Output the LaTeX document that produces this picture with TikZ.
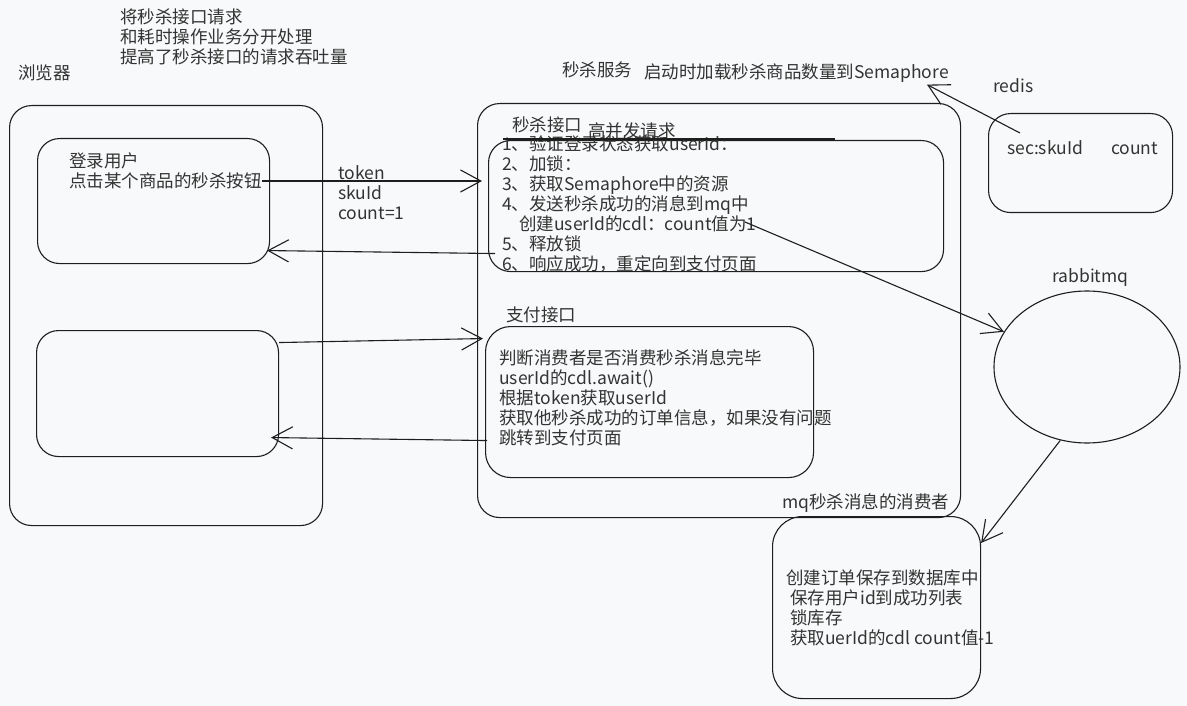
\documentclass[tikz,border=0pt]{standalone}
\usepackage{fontspec}
\setmainfont{Noto Sans CJK SC}
\usetikzlibrary{arrows.meta,shapes.geometric,calc}
\definecolor{bg}{RGB}{248,249,250}
\definecolor{ink}{RGB}{30,30,30}
\definecolor{txt}{RGB}{51,51,51}
\begin{document}
\begin{tikzpicture}[x=1pt,y=-1pt,
  box/.style={draw=ink,line width=1.1pt,rounded corners=22pt,anchor=north west,inner sep=0pt},
  lbl/.style={anchor=west,inner sep=0pt,text=txt,font=\fontsize{17.5}{20}\selectfont,align=left},
  arr/.style={draw=ink,line width=1.1pt,-{Straight Barb[length=12pt,width=13pt,scale=1.7]}},
  ln/.style={draw=ink,line width=1.1pt}]
\fill[bg] (0,0) rectangle (1187,706);
\useasboundingbox (0,0) rectangle (1187,706);
% boxes
\node[box,minimum width=313pt,minimum height=420pt] (browser) at (9,105) {};
\node[box,minimum width=232pt,minimum height=125pt] (b1) at (37,138) {};
\node[box,minimum width=242pt,minimum height=126pt] (b2) at (36,330) {};
\node[box,minimum width=483pt,minimum height=414pt] (svc) at (477,103) {};
\node[box,minimum width=455pt,minimum height=131pt] (kill) at (488,140) {};
\node[box,minimum width=328pt,minimum height=151pt,rounded corners=25pt] (pay) at (485,326) {};
\node[box,minimum width=184pt,minimum height=99pt] (redis) at (988,113) {};
\node[draw=ink,line width=1.1pt,ellipse,minimum width=186pt,minimum height=152pt,inner sep=0pt] (mq) at (1087,367) {};
\node[box,minimum width=208pt,minimum height=182pt,rounded corners=30pt] (cons) at (772,516) {};
% texts
\node[lbl] (title) at (120,37) {将秒杀接口请求\\和耗时操作业务分开处理\\提高了秒杀接口的请求吞吐量};
\node[lbl] (browserlbl) at (18,73) {浏览器};
\node[lbl] (b1t1) at (69,161) {登录用户};
\node[lbl] (b1t2) at (69,181) {点击某个商品的秒杀按钮};
\node[lbl] (tok) at (338,193) {token\\skuId\\count=1};
\node[lbl] (svclbl) at (562,70) {秒杀服务};
\node[lbl] (sem) at (644,73) {启动时加载秒杀商品数量到Semaphore};
\node[lbl] (killlbl) at (512,125) {秒杀接口};
\node[lbl] (hc) at (588,131) {高并发请求};
\node[lbl] (killtxt) at (502,204) {1、验证登录状态获取userId：\\2、加锁：\\3、获取Semaphore中的资源\\4、发送秒杀成功的消息到mq中\\\hspace*{17pt}创建userId的cdl：count值为1\\5、释放锁\\6、响应成功，重定向到支付页面};
\node[lbl] (paylbl) at (506,315) {支付接口};
\node[lbl] (paytxt) at (499,398) {判断消费者是否消费秒杀消息完毕\\userId的cdl.await()\\根据token获取userId\\获取他秒杀成功的订单信息，如果没有问题\\跳转到支付页面};
\node[lbl] (redislbl) at (993,86) {redis};
\node[lbl] (rediskv) at (1007,148) {sec:skuId\hspace{28pt}count};
\node[lbl] (mqlbl) at (1052,278) {rabbitmq};
\node[lbl] (conslbl) at (782,503) {mq秒杀消息的消费者};
\node[lbl] (constxt) at (786,608) {创建订单保存到数据库中\\\hspace*{4pt}保存用户id到成功列表\\\hspace*{4pt}锁库存\\\hspace*{4pt}获取uerId的cdl count值-1};
% connectors
\coordinate (ul1) at (503,139);
\coordinate (ul2) at (835,139);
\draw[ln] (ul1) -- (ul2);
\draw[arr] (b1t2.east) -- ([xshift=-6pt]kill.west |- b1t2.east);
\draw[arr] ([xshift=7pt,yshift=-47.5pt]kill.west) -- ([xshift=-3pt,yshift=-49.5pt]b1.east);
\draw[arr] ([yshift=51pt]b2.east) -- ([xshift=-2pt,yshift=63.5pt]pay.west);
\draw[arr] ([xshift=2pt,yshift=-38.5pt]pay.west) -- ([xshift=-8pt,yshift=-44pt]b2.east);
\coordinate (cdl) at (745,222);
\draw[arr] (cdl) -- (mq);
\draw[arr] (mq.250) -- ([yshift=-27pt]cons.north east);
\draw[arr] ([xshift=32pt,yshift=-20pt]redis.north west) -- ([xshift=-22pt,yshift=-2pt]sem.south east);
\end{tikzpicture}
\end{document}
